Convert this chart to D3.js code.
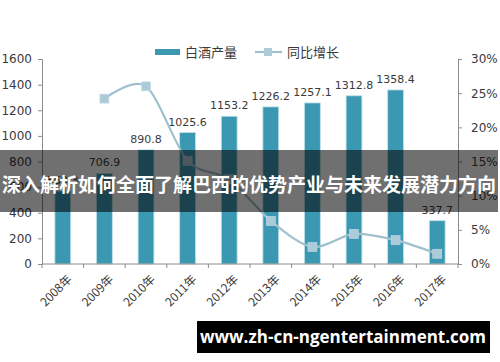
<!DOCTYPE html>
<html><head><meta charset="utf-8">
<script src="https://cdn.jsdelivr.net/npm/d3@7"></script>
<style>
html,body{margin:0;padding:0;background:#fff;}
svg{display:block;}
</style>
</head><body>
<svg id="c" width="500" height="362"></svg>
<script>
const categories = ["2008年","2009年","2010年","2011年","2012年","2013年","2014年","2015年","2016年","2017年"];
const production = [569.3, 706.9, 890.8, 1025.6, 1153.2, 1226.2, 1257.1, 1312.8, 1358.4, 337.7];
const growth = [null, 24.2, 26.0, 15.1, 12.4, 6.3, 2.5, 4.4, 3.5, 1.5];
const leftTicks = [0,200,400,600,800,1000,1200,1400,1600];
const rightTicks = [0,5,10,15,20,25,30];
const seriesNames = ["白酒产量","同比增长"];
const bannerTitle = "深入解析如何全面了解巴西的优势产业与未来发展潜力方向";
const bannerUrl = "www.zh-cn-ngentertainment.com";

const svg = d3.select("#c");
const m = {l:42, r:458, t:59, b:264};
const x = d3.scaleBand().domain(categories).range([m.l, m.r]).paddingInner(0.62).paddingOuter(0.31);
const xb = d3.scaleBand().domain(categories).range([m.l, m.r]);
const yL = d3.scaleLinear().domain([0,1600]).range([m.b, m.t]);
const yR = d3.scaleLinear().domain([0,30]).range([m.b, m.t]);
const numFont = "'DejaVu Sans', Verdana, sans-serif";
const cjkFont = "'Noto Sans CJK SC', 'DejaVu Sans', sans-serif";
const axisColor = "#8c8c8c";
const textColor = "#3a3a3a";
const barColor = "#3b98b3";
const lineColor = "#9fc0cd";
const markColor = "#abcbd8";

// left axis
const gL = svg.append("g").attr("transform",`translate(${m.l},0)`)
  .call(d3.axisLeft(yL).tickValues(leftTicks).tickFormat(d3.format("d")).tickSize(4).tickPadding(6));
gL.select(".domain").attr("stroke",axisColor);
gL.selectAll(".tick line").attr("stroke",axisColor);
gL.selectAll("text").attr("fill",textColor).style("font-family",numFont).style("font-size","12px");

// right axis
const gR = svg.append("g").attr("transform",`translate(${m.r},0)`)
  .call(d3.axisRight(yR).tickValues(rightTicks).tickFormat(d=>d+"%").tickSize(4).tickPadding(9));
gR.select(".domain").attr("stroke",axisColor);
gR.selectAll(".tick line").attr("stroke",axisColor);
gR.selectAll("text").attr("fill",textColor).style("font-family",numFont).style("font-size","12px");

// bars
svg.append("g").selectAll("rect").data(production).join("rect")
  .attr("x",(d,i)=>x(categories[i])).attr("width",x.bandwidth())
  .attr("y",d=>yL(d)).attr("height",d=>yL(0)-yL(d))
  .attr("fill",barColor).attr("stroke","#bfe0e8").attr("stroke-width",0.8);

// bar labels
svg.append("g").selectAll("text").data(production).join("text")
  .attr("x",(d,i)=>x(categories[i])+x.bandwidth()/2)
  .attr("y",d=>yL(d)-7)
  .attr("text-anchor","middle").attr("fill",textColor)
  .style("font-family",numFont).style("font-size","11px")
  .text(d=>d.toFixed(1));

// x axis
const gX = svg.append("g").attr("transform",`translate(0,${m.b})`);
gX.append("line").attr("x1",m.l).attr("x2",m.r).attr("stroke",axisColor);
gX.selectAll("line.tk").data(d3.range(categories.length+1)).join("line").attr("class","tk")
  .attr("x1",i=>m.l+i*xb.bandwidth()).attr("x2",i=>m.l+i*xb.bandwidth())
  .attr("y1",0).attr("y2",4).attr("stroke",axisColor);
gX.selectAll("text").data(categories).join("text")
  .attr("transform",d=>`translate(${xb(d)+xb.bandwidth()/2+4},10) rotate(-45)`)
  .attr("text-anchor","end").attr("dy","0.7em").attr("fill",textColor)
  .style("font-family",cjkFont).style("font-size","12px")
  .text(d=>d);

// line
const pts = growth.map((g,i)=>g==null?null:[xb(categories[i])+xb.bandwidth()/2, yR(g)]).filter(p=>p);
svg.append("path").datum(pts)
  .attr("d",d3.line().curve(d3.curveCardinal.tension(0.1)))
  .attr("fill","none").attr("stroke",lineColor).attr("stroke-width",2.2);
svg.append("g").selectAll("rect").data(pts).join("rect")
  .attr("x",p=>p[0]-4.5).attr("y",p=>p[1]-4.5).attr("width",9).attr("height",9)
  .attr("fill",markColor).attr("stroke","#c6dde7").attr("stroke-width",0.6);

// legend
const lg = svg.append("g");
lg.append("rect").attr("x",155).attr("y",49).attr("width",25).attr("height",6).attr("fill",barColor);
lg.append("text").attr("x",185).attr("y",57).text(seriesNames[0])
  .attr("fill",textColor).style("font-family",cjkFont).style("font-size","13px");
lg.append("line").attr("x1",255).attr("x2",282).attr("y1",52).attr("y2",52).attr("stroke",lineColor).attr("stroke-width",2.2);
lg.append("rect").attr("x",264).attr("y",48).attr("width",8).attr("height",8).attr("fill",markColor);
lg.append("text").attr("x",287).attr("y",57).text(seriesNames[1])
  .attr("fill",textColor).style("font-family",cjkFont).style("font-size","13px");

// overlay banner
svg.append("rect").attr("x",0).attr("y",150).attr("width",498).attr("height",62).attr("fill","rgba(0,0,0,0.56)");
svg.append("text").attr("x",249).attr("y",192).attr("text-anchor","middle")
  .attr("fill","#fff").style("font-family",cjkFont).style("font-weight","bold").style("font-size","19px")
  .attr("textLength",494).attr("lengthAdjust","spacingAndGlyphs")
  .text(bannerTitle);

// url banner
svg.append("rect").attr("x",197).attr("y",321).attr("width",293).attr("height",32).attr("fill","#000");
svg.append("text").attr("x",343).attr("y",343).attr("text-anchor","middle")
  .attr("fill","#fff").style("font-family","'Open Sans', 'DejaVu Sans', sans-serif").style("font-weight","bold").style("font-size","17px")
  .text(bannerUrl);
</script>
</body></html>
